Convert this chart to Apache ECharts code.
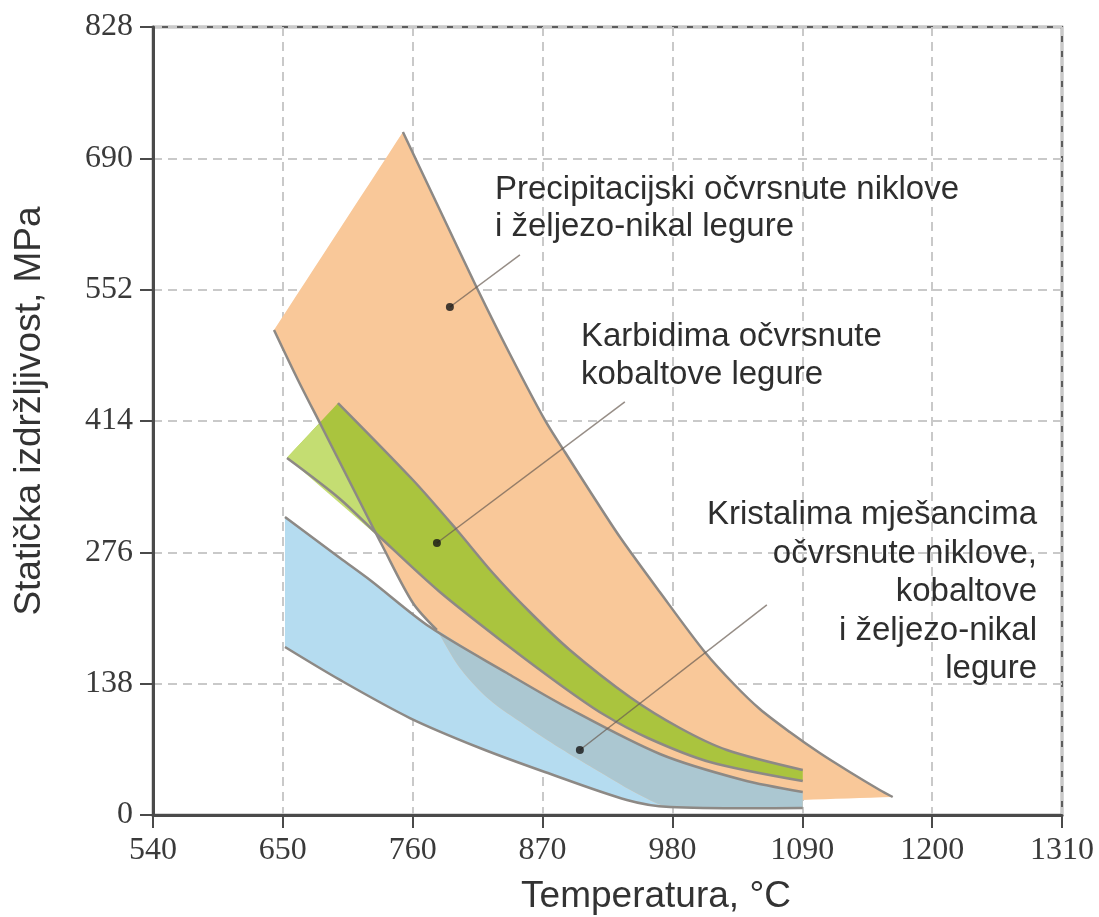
<!DOCTYPE html>
<html>
<head>
<meta charset="utf-8">
<script src="https://cdn.jsdelivr.net/npm/echarts@6/dist/echarts.min.js"></script>
<style>html,body{margin:0;padding:0;background:#fff}#chart{width:1099px;height:917px}</style>
</head>
<body>
<div id="chart"></div>
<script>
// ---- tick labels ----
const xTickValues = [540, 650, 760, 870, 980, 1090, 1200, 1310];
const yTickValues = [0, 138, 276, 414, 552, 690, 828];

// ---- precipitation-hardened Ni and Fe-Ni alloys (orange band) ----
const precipRightEdge = [[751.7,717.7],[783.0,635.7],[814.4,553.8],[842.3,484.4],[871.9,415.1],[888.9,381.4],[910.0,340.5],[935.5,292.1],[969.3,234.3],[1007.4,171.3],[1032.8,136.6],[1054.0,111.4],[1079.4,87.2],[1104.8,65.1],[1130.2,45.2],[1155.6,26.3],[1166.6,18.9]];
const precipBottomTail = [[1090.4,15.8]];
const precipLowerEdge = [[1090.4,7.4],[977.8,8.4],[952.4,21.0],[918.5,45.2],[884.6,70.4],[855.0,94.6],[825.4,120.8],[800.0,154.5],[780.5,194.4]];
const precipLeftEdge = [[780.5,194.4],[760.2,222.8],[734.8,281.6],[708.9,344.7],[683.1,407.7],[662.8,457.1],[642.5,509.6]];

// ---- carbide-hardened Co alloys (green band) ----
const carbideUpper = [[696.7,432.9],[760.2,352.0],[797.4,299.5],[827.9,254.3],[859.2,213.3],[893.1,173.4],[943.9,124.0],[986.3,91.4],[1026.1,68.3],[1090.4,47.3]];
const carbideLower = [[653.5,375.1],[698.4,332.1],[732.2,292.1],[783.0,234.3],[839.8,178.6],[886.3,135.6],[921.1,106.1],[959.2,80.9],[1011.7,55.7],[1090.4,35.7]];
const carbideLightWedge = [[653.5,375.6],[681.3,412.2],[730.0,293.5]];

// ---- solid-solution-hardened alloys (blue band) ----
const solidUpper = [[651.8,313.1],[698.4,270.1],[723.8,247.0],[774.6,197.5],[839.8,149.2],[890.0,113.5],[969.4,64.1],[1039.6,36.8],[1090.4,24.2]];
const solidLower = [[651.8,176.5],[698.4,141.9],[757.6,101.9],[816.9,70.4],[871.9,45.2],[941.4,15.8],[977.8,8.4],[1090.4,7.4]];

// ---- annotation leader lines: [text end, arrow end] ----
const precipLeader = [[850.8,588.5],[791.5,533.8]];
const carbideLeader = [[939.7,434.0],[780.5,285.8]];
const solidLeader = [[1060.0,220.7],[901.6,68.3]];

const precipLabel = 'Precipitacijski očvrsnute niklove\ni željezo-nikal legure';
const carbideLabel = 'Karbidima očvrsnute\nkobaltove legure';
const solidLabel = 'Kristalima mješancima\nočvrsnute niklove,\nkobaltove\ni željezo-nikal\nlegure';
const xAxisTitle = 'Temperatura, °C';
const yAxisTitle = 'Statička izdržljivost, MPa';

// ---- polygons assembled from the edge arrays (a repeated vertex keeps a corner sharp) ----
const last = a => a[a.length - 1];
const precipPolygon = [...precipRightEdge, last(precipRightEdge), precipBottomTail[0], precipBottomTail[0],
  precipLowerEdge[0], ...precipLowerEdge, ...precipLeftEdge, last(precipLeftEdge), precipRightEdge[0]];
const carbidePolygon = [...carbideUpper, last(carbideUpper), last(carbideLower), ...carbideLower.slice().reverse(),
  carbideLower[0], carbideUpper[0]];
const solidPolygon = [...solidUpper, last(solidUpper), last(solidLower), ...solidLower.slice().reverse(),
  solidLower[0], solidUpper[0]];
const overlapPolygon = [last(precipLowerEdge), ...solidUpper.filter(p => p[0] > 780.5), last(solidUpper),
  precipLowerEdge[0], ...precipLowerEdge];

const SMOOTH = 0.3;
function polySeries(name, pts, fill, z, smooth) {
  return {
    type: 'custom', name, coordinateSystem: 'cartesian2d', data: pts, silent: true, z,
    encode: {x: 0, y: 1},
    renderItem: function (params, api) {
      if (params.dataIndex !== 0) return null;
      return {type: 'polygon', shape: {points: pts.map(p => api.coord(p)), smooth: smooth}, style: {fill: fill}};
    }
  };
}
function edgeSeries(name, pts, color, width, z, smooth) {
  return {
    type: 'custom', name, coordinateSystem: 'cartesian2d', data: pts, silent: true, z,
    encode: {x: 0, y: 1},
    renderItem: function (params, api) {
      if (params.dataIndex !== 0) return null;
      return {type: 'polyline', shape: {points: pts.map(p => api.coord(p)), smooth: smooth},
        style: {stroke: color, lineWidth: width, fill: null}};
    }
  };
}

const BORDER = '#8d8985';
const LEADER = 'rgba(105,92,82,0.7)';
const axisCommon = {
  axisLine: {show: true, lineStyle: {color: '#4a4a4a', width: 3}},
  axisTick: {show: true, length: 13, lineStyle: {color: '#4a4a4a', width: 2}},
  axisLabel: {fontFamily: 'Liberation Serif', fontSize: 32, color: '#3a3a3a', margin: 20, showMinLabel: true, showMaxLabel: true,
    formatter: v => String(v)},
  splitLine: {show: true, lineStyle: {type: [9, 6], color: '#c9c9c9', width: 2}}
};

const option = {
  animation: false,
  grid: {left: 153, right: 37, top: 27, bottom: 102, show: true, borderColor: '#5e5e5e', borderWidth: 2.5, backgroundColor: 'transparent'},
  xAxis: Object.assign({type: 'value', min: xTickValues[0], max: last(xTickValues), interval: xTickValues[1] - xTickValues[0]}, axisCommon),
  yAxis: Object.assign({type: 'value', min: yTickValues[0], max: last(yTickValues), interval: yTickValues[1] - yTickValues[0]}, axisCommon),
  series: [
    polySeries('Kristalima mješancima očvrsnute legure', solidPolygon, '#b5dcf0', 3, SMOOTH),
    polySeries('Precipitacijski očvrsnute legure', precipPolygon, '#f9c899', 4, SMOOTH),
    polySeries('preklapanje', overlapPolygon, '#abc7d1', 5, SMOOTH),
    polySeries('Karbidima očvrsnute legure', carbidePolygon, '#aac43e', 6, SMOOTH),
    polySeries('svijetli dio', carbideLightWedge, '#c4dd72', 7, 0),
    edgeSeries('r1', precipRightEdge, BORDER, 2.5, 8, SMOOTH),
    edgeSeries('r2', precipLeftEdge, BORDER, 2.5, 8, SMOOTH),
    edgeSeries('g1', carbideUpper, BORDER, 2.5, 8, SMOOTH),
    edgeSeries('g2', carbideLower, BORDER, 2.5, 8, SMOOTH),
    edgeSeries('b1', solidUpper, BORDER, 2.5, 8, SMOOTH),
    edgeSeries('b2', solidLower, BORDER, 2.5, 8, SMOOTH),
    edgeSeries('l1', precipLeader, LEADER, 1.5, 9, 0),
    edgeSeries('l2', carbideLeader, LEADER, 1.5, 9, 0),
    edgeSeries('l3', solidLeader, LEADER, 1.5, 9, 0),
    {type: 'scatter', data: [precipLeader[1], carbideLeader[1], solidLeader[1]], symbolSize: 8, silent: true, z: 10,
      itemStyle: {color: '#151515'}}
  ],
  graphic: [
    {type: 'text', x: 30, y: 411, rotation: Math.PI / 2, silent: true,
      style: {text: yAxisTitle, fontFamily: 'Liberation Sans', fontSize: 37, fill: '#333', align: 'center', verticalAlign: 'middle'}},
    {type: 'text', x: 656, y: 897, silent: true,
      style: {text: xAxisTitle, fontFamily: 'Liberation Sans', fontSize: 37, fill: '#333', align: 'center', verticalAlign: 'middle'}},
    {type: 'text', x: 495, y: 171, silent: true, z: 20,
      style: {text: precipLabel, fontFamily: 'Liberation Sans', fontSize: 33, lineHeight: 37, fill: '#2e2e2e', align: 'left', verticalAlign: 'top'}},
    {type: 'text', x: 581, y: 318, silent: true, z: 20,
      style: {text: carbideLabel, fontFamily: 'Liberation Sans', fontSize: 33, lineHeight: 38, fill: '#2e2e2e', align: 'left', verticalAlign: 'top'}},
    {type: 'text', x: 1037, y: 496, silent: true, z: 20,
      style: {text: solidLabel, fontFamily: 'Liberation Sans', fontSize: 33, lineHeight: 38.5, fill: '#2e2e2e', align: 'right', verticalAlign: 'top'}}
  ]
};

const chart = echarts.init(document.getElementById('chart'), null, {renderer: 'canvas'});
chart.setOption(option);
</script>
</body>
</html>
